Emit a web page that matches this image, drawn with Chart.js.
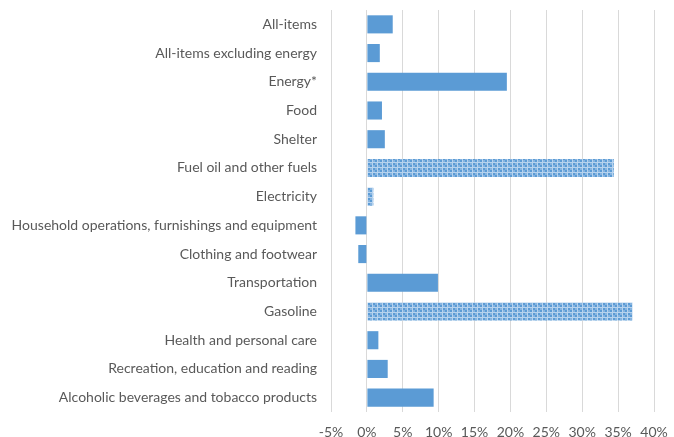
<!DOCTYPE html>
<html>
<head>
<meta charset="utf-8">
<script src="https://cdn.jsdelivr.net/npm/chart.js@4"></script>
<style>
  html, body { margin: 0; padding: 0; background: #fff; }
  #wrap { width: 674px; height: 437px; }
</style>
</head>
<body>
<div id="wrap"><canvas id="cpiChart" width="674" height="437"></canvas></div>
<script>
// 12-month change by component
const categories = [
  'All-items',
  'All-items excluding energy',
  'Energy*',
  'Food',
  'Shelter',
  'Fuel oil and other fuels',
  'Electricity',
  'Household operations, furnishings and equipment',
  'Clothing and footwear',
  'Transportation',
  'Gasoline',
  'Health and personal care',
  'Recreation, education and reading',
  'Alcoholic beverages and tobacco products'
];
const changes = [3.6, 1.8, 19.5, 2.1, 2.5, 34.4, 0.9, -1.6, -1.2, 9.9, 37.0, 1.6, 2.9, 9.3];
const energyItems = ['Fuel oil and other fuels', 'Electricity', 'Gasoline'];
const xTicks = [-5, 0, 5, 10, 15, 20, 25, 30, 35, 40];

const BLUE = '#5b9bd5';
const FONT = { family: 'Lato, "Open Sans", sans-serif', size: 14 };

// checkered tile for the energy components
function makePattern() {
  const c = document.createElement('canvas');
  c.width = 5; c.height = 5;
  const g = c.getContext('2d');
  g.fillStyle = '#b7d3ee';
  g.fillRect(0, 0, 5, 5);
  g.fillStyle = BLUE;
  g.fillRect(0, 0, 2, 2);
  g.fillRect(3, 3, 2, 2);
  g.fillStyle = '#86b4e0';
  g.fillRect(3, 0, 2, 2);
  g.fillRect(0, 3, 2, 2);
  return g.createPattern(c, 'repeat');
}
const pattern = makePattern();

const fills = categories.map(c => energyItems.includes(c) ? pattern : BLUE);

new Chart(document.getElementById('cpiChart'), {
  type: 'bar',
  data: {
    labels: categories,
    datasets: [{
      data: changes,
      backgroundColor: fills,
      borderWidth: 0,
      barPercentage: 0.63,
      categoryPercentage: 1
    }]
  },
  options: {
    indexAxis: 'y',
    responsive: false,
    animation: false,
    layout: { padding: { top: 10, right: 20, left: 0, bottom: 0 } },
    plugins: { legend: { display: false }, tooltip: { enabled: false } },
    scales: {
      x: {
        min: xTicks[0],
        max: xTicks[xTicks.length - 1],
        afterBuildTicks: s => { s.ticks = xTicks.map(v => ({ value: v })); },
        grid: { color: '#d9d9d9', lineWidth: 1, drawTicks: false },
        border: { display: false },
        ticks: {
          color: '#595959',
          font: FONT,
          padding: 12,
          callback: v => v + '%'
        },
        afterFit: s => {
          s.height = 25;
          s.paddingLeft = 0;
          s.paddingRight = 0;
        }
      },
      y: {
        grid: { display: false, drawTicks: false },
        border: { display: false },
        ticks: {
          color: '#595959',
          font: FONT,
          padding: 14,
          autoSkip: false
        },
        afterFit: s => {
          s.width = 331;
          s.paddingTop = 0;
          s.paddingBottom = 0;
        }
      }
    }
  }
});
</script>
</body>
</html>
